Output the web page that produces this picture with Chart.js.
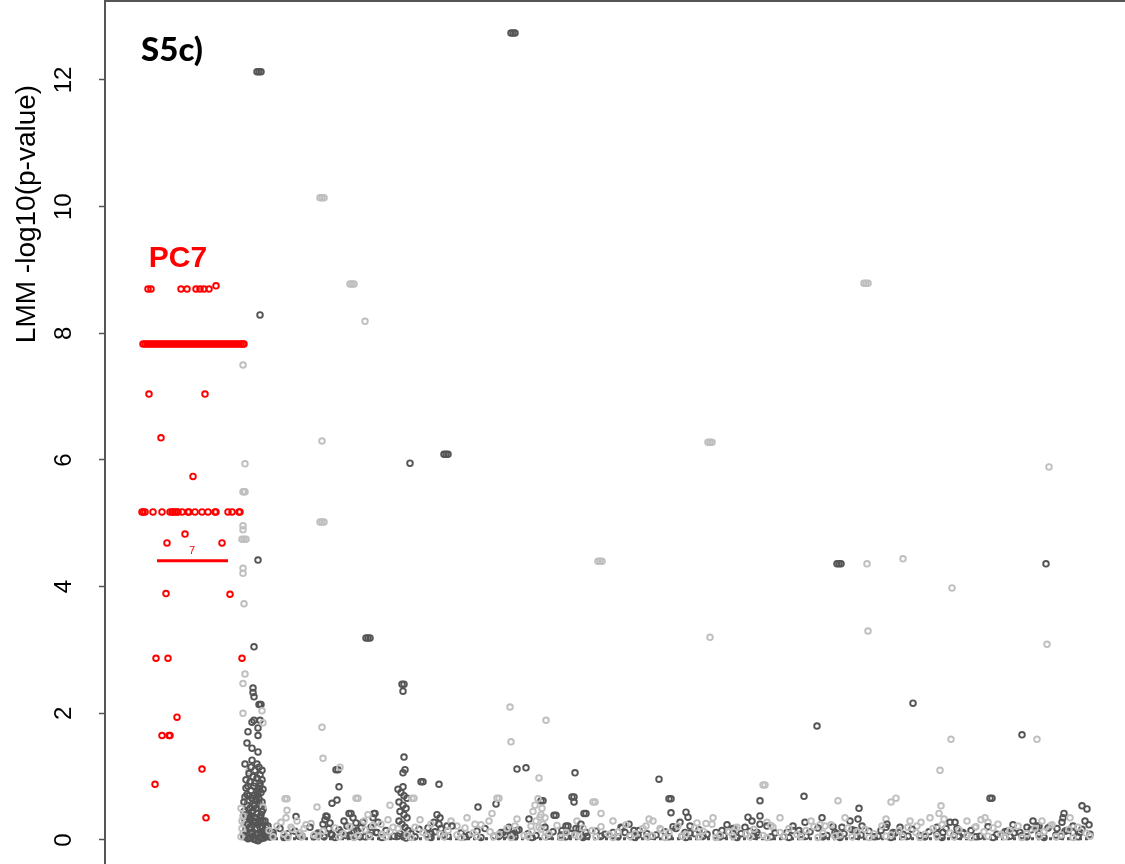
<!DOCTYPE html>
<html>
<head>
<meta charset="utf-8">
<script src="https://cdn.jsdelivr.net/npm/chart.js@4.4.1/dist/chart.umd.min.js"></script>
<style>
html,body{margin:0;padding:0;background:#fff;overflow:hidden;}
#wrap{width:1125px;height:864px;overflow:hidden;}
canvas{display:block;}
</style>
</head>
<body>
<div id="wrap"><canvas id="c" width="1125" height="864"></canvas></div>
<script>
// y-axis tick labels
const yTicks = [0, 2, 4, 6, 8, 10, 12];
const yTitle = 'LMM -log10(p-value)';
const panelLabel = 'S5c)';
const peakLabel = 'PC7';
const peakLineLabel = '7';

// PC7 (red) hits: [position, -log10 p]
const redPts = [
  [43,8.70],[46,8.70],[76,8.70],[82,8.70],[91,8.70],[95,8.70],[99,8.70],[104,8.70],[111,8.75],
  [38,7.83],[40,7.83],[42,7.83],[44,7.83],[46,7.83],[48,7.83],[50,7.83],[52,7.83],[54,7.83],[56,7.83],
  [58,7.83],[60,7.83],[62,7.83],[64,7.83],[66,7.83],[68,7.83],[70,7.83],[72,7.83],[74,7.83],[76,7.83],
  [78,7.83],[80,7.83],[82,7.83],[84,7.83],[86,7.83],[88,7.83],[90,7.83],[92,7.83],[94,7.83],[96,7.83],
  [98,7.83],[100,7.83],[102,7.83],[104,7.83],[106,7.83],[108,7.83],[110,7.83],[112,7.83],[114,7.83],
  [116,7.83],[118,7.83],[120,7.83],[122,7.83],[124,7.83],[126,7.83],[128,7.83],[130,7.83],[132,7.83],
  [134,7.83],[136,7.83],[138,7.83],[139,7.83],
  [44,7.04],[100,7.04],[56,6.35],[88,5.74],
  [37,5.18],[38,5.18],[40,5.18],[48,5.18],[57,5.18],[65,5.18],[67,5.18],[68,5.18],[70,5.18],[72,5.18],
  [73,5.18],[77,5.18],[83,5.18],[84,5.18],[90,5.18],[97,5.18],[103,5.18],[110,5.18],[111,5.18],
  [123,5.18],[127,5.18],[134,5.18],[135,5.18],
  [80,4.83],[62,4.69],[117,4.69],
  [61,3.89],[125,3.88],[51,2.87],[63,2.87],[137,2.87],[72,1.94],[57,1.65],[64,1.65],[65,1.65],
  [97,1.12],[50,0.88],[101,0.35]
];
// PC7 threshold segment
const redLine = [[52,4.41],[123,4.41]];

// other traits, dark grey
const darkPts = [
  [152,12.13],[154,12.13],[156,12.13],[406,12.74],[408,12.74],[410,12.74],
  [155,8.29],[305,5.95],[339,6.09],[341,6.09],[343,6.09],[153,4.42],
  [261,3.19],[263,3.19],[265,3.19],[149,3.05],[297,2.46],[299,2.46],[298,2.35],
  [732,4.36],[734,4.36],[736,4.36],[941,4.36],[808,2.16],[712,1.80],[917,1.66],
  [148,2.40],[148,2.33],[149,2.26],[154,2.14],[155,2.14],[156,2.14],[149,1.89],[155,1.89],[147,1.86],
  [153,1.77],[143,1.71],[153,1.65],[142,1.53],[147,1.45],[147,1.26],[153,1.39],[154,1.15],[155,1.03],
  [150,1.10],[152,0.98],[155,0.90],[149,0.85],[153,0.80],[156,0.75],[144,0.70],[147,0.66],[151,0.62],
  [154,0.58],[142,0.55],[145,0.50],[148,0.46],[152,0.42],[156,0.40],[143,0.36],[146,0.32],[150,0.28],
  [153,0.25],[157,0.22],[141,0.20],[144,0.16],[148,0.12],[151,0.09],[155,0.06],[145,0.03],[149,0.01],
  [153,-0.01],[142,0.05],[147,0.24],[150,0.55],[146,0.78],[152,0.70],[145,0.92],[157,0.60],[158,0.30],
  [160,0.15],[162,0.08],[165,0.05],[168,0.12],[140,0.30],[141,0.10],[143,0.62],[157,1.10],[151,0.35],
  [139,0.45],[140,0.68],[141,0.82],[144,0.40],[146,0.12],[149,0.70],[152,0.18],[155,0.35],[158,0.48],
  [143,0.02],[147,0.06],[151,0.00],[156,0.02],[159,0.03],[161,0.20],
  [231,1.11],[233,1.11],[234,0.84],[232,0.63],[227,0.58],[299,1.31],[300,1.11],[298,1.06],[298,0.84],
  [293,0.80],[296,0.75],[299,0.70],[302,0.66],[294,0.60],[298,0.55],[301,0.50],[295,0.45],[299,0.40],
  [302,0.35],[294,0.30],[297,0.25],[300,0.20],[303,0.15],[295,0.10],[298,0.06],[301,0.03],
  [316,0.92],[318,0.92],[334,0.88],[373,0.52],[269,0.42],[258,0.28],[222,0.37],[220,0.32],[225,0.27],
  [244,0.42],[246,0.42],[251,0.27],[270,0.42],[335,0.35],[334,0.25],[323,0.19],[191,0.37],
  [391,0.57],[412,1.12],[421,1.14],[436,0.62],[438,0.62],[449,0.39],[451,0.39],[467,0.68],[469,0.68],
  [469,0.60],[470,1.06],[479,0.42],[481,0.42],[554,0.96],[564,0.65],[566,0.65],[566,0.43],[581,0.44],
  [583,0.36],[643,0.36],[655,0.62],[655,0.38],[655,0.25],[424,0.33],[463,0.22],
  [699,0.69],[754,0.50],[717,0.35],[753,0.33],[885,0.66],[887,0.66],[977,0.54],[982,0.49],[959,0.42],
  [958,0.35],[984,0.24],[850,0.28],[932,0.22],[934,0.22],[728,0.21]
];
// dark grey, dense clumps of hits near the floor
const darkClumps = [
  [139,0.05],[141,0.15],[143,0.25],[145,0.35],[147,0.45],[149,0.55],[151,0.65],[153,0.75],[155,0.85],
  [157,0.95],[139,0.60],[141,0.40],[143,0.85],[145,0.20],[147,0.10],[149,0.30],[151,0.50],[153,0.10],
  [155,0.20],[157,0.45],[159,0.10],[141,0.95],[144,1.05],[148,1.00],[152,1.20],[146,1.15],[150,0.90],
  [154,0.65],[156,0.30],[158,0.80],[140,1.20],[142,0.72],[158,0.10],[160,0.30],[163,0.22],
  [215,0.10],[218,0.25],[221,0.38],[224,0.18],[227,0.08],[219,0.05],
  [236,0.12],[239,0.30],[242,0.22],[245,0.08],[248,0.35],[252,0.15],[255,0.05],
  [266,0.20],[268,0.35],[271,0.12],[273,0.28],
  [326,0.10],[329,0.28],[332,0.40],[336,0.18],[339,0.08],[342,0.22],
  [396,0.12],[400,0.08],[404,0.20],[408,0.10],[412,0.15],
  [457,0.15],[461,0.22],[466,0.10],[471,0.18],[476,0.25],[481,0.12],
  [516,0.20],[520,0.12],[524,0.25],[529,0.15],[533,0.08],
  [571,0.18],[575,0.28],[580,0.12],[585,0.22],[590,0.10],
  [617,0.15],[622,0.24],[628,0.10],[640,0.20],[647,0.30],[652,0.12],
  [682,0.12],[688,0.22],[694,0.15],[700,0.28],
  [732,0.10],[737,0.20],[745,0.30],[750,0.15],[757,0.22],
  [776,0.15],[782,0.25],[788,0.12],[795,0.20],
  [832,0.20],[838,0.12],[845,0.28],[852,0.18],[858,0.10],
  [902,0.14],[908,0.24],[915,0.12],[922,0.20],[928,0.30],
  [952,0.18],[957,0.28],[962,0.15],[968,0.22],[975,0.12],[980,0.30]
];
// dark grey, near-baseline hits
const darkBase = [
  [160,0.12],[168,0.08],[175,0.18],[183,0.10],[190,0.14],[197,0.06],[205,0.20],[213,0.11],[226,0.09],
  [234,0.16],[241,0.07],[249,0.13],[256,0.19],[264,0.08],[272,0.12],[281,0.15],[289,0.06],[306,0.10],
  [314,0.17],[322,0.09],[330,0.13],[339,0.07],[347,0.22],[356,0.11],[364,0.08],[372,0.14],[380,0.18],
  [389,0.06],[398,0.12],[406,0.09],[414,0.16],[423,0.10],[431,0.07],[440,0.20],[448,0.13],[456,0.08],
  [465,0.11],[474,0.17],[482,0.06],[491,0.14],[500,0.09],[508,0.12],[517,0.19],[525,0.07],[534,0.15],
  [542,0.10],[551,0.08],[560,0.13],[568,0.21],[577,0.06],[585,0.11],[594,0.16],[602,0.09],[611,0.12],
  [619,0.07],[628,0.18],[636,0.10],[645,0.14],[653,0.08],[662,0.22],[670,0.11],[679,0.06],[688,0.15],
  [696,0.09],[705,0.13],[713,0.19],[722,0.07],[730,0.12],[739,0.10],[747,0.16],[756,0.08],[764,0.14],
  [773,0.06],[781,0.20],[790,0.11],[798,0.09],[807,0.17],[815,0.07],[824,0.13],[832,0.10],[841,0.18],
  [849,0.08],[858,0.12],[866,0.15],[875,0.06],[883,0.21],[892,0.09],[900,0.13],[909,0.11],[917,0.07],
  [926,0.16],[934,0.10],[943,0.19],[951,0.08],[960,0.14],[968,0.12],[977,0.17],[985,0.09],
  [164,0.05],[179,0.04],[194,0.06],[209,0.05],[230,0.04],[245,0.06],[260,0.05],[277,0.04],[293,0.06],
  [310,0.05],[326,0.04],[343,0.06],[360,0.05],[376,0.04],[394,0.06],[410,0.05],[427,0.04],[444,0.06],
  [461,0.05],[478,0.04],[496,0.06],[513,0.05],[530,0.04],[547,0.06],[564,0.05],[581,0.04],[598,0.06],
  [615,0.05],[632,0.04],[649,0.06],[666,0.05],[684,0.04],[701,0.06],[718,0.05],[735,0.04],[752,0.06],
  [769,0.05],[786,0.04],[803,0.06],[820,0.05],[837,0.04],[854,0.06],[871,0.05],[888,0.04],[905,0.06],
  [922,0.05],[939,0.04],[956,0.06],[973,0.05]
];

// other traits, light grey
const lightPts = [
  [215,10.14],[217,10.14],[219,10.14],[245,8.78],[247,8.78],[249,8.78],[260,8.19],[138,7.50],
  [217,6.30],[140,5.94],[138,5.50],[139,5.50],[140,5.50],[215,5.02],[217,5.02],[219,5.02],
  [137,4.75],[139,4.75],[141,4.75],[138,4.96],[138,4.90],[138,4.29],[138,4.21],[139,3.73],
  [140,2.62],[138,2.47],[157,2.04],[138,2.00],[158,1.85],[144,1.09],[180,0.65],[182,0.65],[182,0.47],
  [603,6.28],[605,6.28],[607,6.28],[759,8.79],[761,8.79],[763,8.79],[944,5.89],[493,4.40],[495,4.40],
  [497,4.40],[762,4.36],[798,4.44],[847,3.98],[605,3.20],[763,3.30],[942,3.09],[846,1.59],[932,1.59],
  [835,1.10],[405,2.10],[406,1.55],[441,1.89],[217,1.78],[218,1.29],
  [235,1.15],[251,0.66],[253,0.66],[212,0.52],[307,0.66],[309,0.66],[315,0.32],[285,0.55],
  [434,0.98],[392,0.66],[394,0.66],[387,0.42],[488,0.60],[490,0.60],[496,0.42],[508,0.30],[544,0.33],
  [658,0.87],[660,0.87],[630,0.19],[592,0.27],[412,0.33],[435,0.36],[472,0.30],
  [431,0.30],[434,0.20],[438,0.25],[441,0.12],[436,0.40],[440,0.35],
  [733,0.62],[786,0.60],[791,0.66],[836,0.54],[834,0.42],[839,0.33],[876,0.32],[883,0.28],[781,0.33],
  [816,0.28],[715,0.24],[140,0.40],[139,0.25],[143,0.15],[158,0.52],[138,0.10],[137,0.30],[139,0.60]
];
// light grey, clumps near the floor
const lightClumps = [
  [136,0.05],[137,0.18],[138,0.38],[136,0.50],
  [176,0.28],[181,0.35],[186,0.20],[192,0.30],[199,0.18],[206,0.26],
  [259,0.30],[263,0.40],[276,0.25],[283,0.32],[288,0.20],
  [346,0.30],[352,0.22],[362,0.35],[370,0.25],[384,0.30],
  [426,0.22],[428,0.45],[430,0.55],[433,0.65],[437,0.50],
  [541,0.22],[548,0.30],[555,0.18],[601,0.26],[608,0.35],
  [662,0.28],[668,0.20],[675,0.35],[706,0.30],[720,0.22],[740,0.35],
  [805,0.30],[812,0.22],[825,0.35],[862,0.30],[870,0.20],[880,0.35],[893,0.25],
  [937,0.30],[945,0.22],[965,0.35]
];
// light grey, near-baseline hits
const lightBase = [
  [164,0.15],[172,0.22],[179,0.09],[187,0.17],[194,0.11],[201,0.24],[209,0.08],[218,0.14],[230,0.19],
  [238,0.10],[245,0.21],[253,0.07],[260,0.16],[268,0.23],[277,0.09],[285,0.13],[293,0.18],[302,0.08],
  [310,0.20],[318,0.12],[326,0.25],[335,0.10],[343,0.15],[352,0.08],[360,0.19],[368,0.11],[376,0.24],
  [385,0.13],[394,0.09],[402,0.18],[410,0.22],[419,0.07],[427,0.14],[436,0.17],[444,0.10],[452,0.23],
  [461,0.12],[470,0.08],[478,0.19],[487,0.15],[496,0.21],[504,0.09],[513,0.13],[521,0.24],[530,0.10],
  [538,0.18],[547,0.07],[556,0.16],[564,0.12],[573,0.22],[581,0.09],[590,0.19],[598,0.14],[607,0.25],
  [615,0.08],[624,0.13],[632,0.20],[641,0.10],[649,0.17],[658,0.07],[666,0.23],[675,0.12],[684,0.18],
  [692,0.09],[701,0.15],[709,0.21],[718,0.11],[726,0.24],[735,0.08],[743,0.19],[752,0.13],[760,0.17],
  [769,0.10],[777,0.22],[786,0.08],[794,0.15],[803,0.20],[811,0.12],[820,0.09],[828,0.18],[837,0.24],
  [845,0.11],[854,0.16],[862,0.07],[871,0.21],[879,0.13],[888,0.19],[896,0.09],[905,0.15],[913,0.22],
  [922,0.10],[930,0.18],[939,0.13],[947,0.24],[956,0.08],[964,0.17],[973,0.20],[981,0.11],
  [168,0.05],[183,0.04],[197,0.05],[213,0.06],[234,0.05],[249,0.04],[264,0.06],[281,0.05],[306,0.04],
  [322,0.06],[339,0.05],[356,0.04],[372,0.06],[389,0.05],[406,0.04],[423,0.06],[440,0.05],[456,0.04],
  [474,0.06],[491,0.05],[508,0.04],[525,0.06],[542,0.05],[560,0.04],[577,0.06],[594,0.05],[611,0.04],
  [628,0.06],[645,0.05],[662,0.04],[679,0.06],[696,0.05],[713,0.04],[730,0.06],[747,0.05],[764,0.04],
  [781,0.06],[798,0.05],[815,0.04],[832,0.06],[849,0.05],[866,0.04],[883,0.06],[900,0.05],[917,0.04],
  [934,0.06],[951,0.05],[968,0.04],[985,0.06]
];
// dense floor of non-significant hits
const floorLine = [[140,0.02],[985,0.02]];

const toXY = arr => arr.map(p => ({x: p[0], y: p[1]}));
const DARK = '#555555', LIGHT = '#bfbfbf', RED = '#ff0000';
const ptStyle = (c) => ({
  pointRadius: 2.8, pointBorderWidth: 1.9, pointBackgroundColor: 'rgba(0,0,0,0)',
  pointBorderColor: c, borderColor: c, showLine: false, pointHoverRadius: 2.8
});

const textPlugin = {
  id: 'texts',
  afterDatasetsDraw(chart) {
    const {ctx, chartArea, scales} = chart;
    const xs = scales.x, ys = scales.y;
    ctx.save();
    // y axis title
    ctx.translate(27, 214);
    ctx.rotate(-Math.PI / 2);
    ctx.fillStyle = '#000';
    ctx.font = '28px "Liberation Sans", Arial, sans-serif';
    ctx.textAlign = 'center';
    ctx.textBaseline = 'middle';
    ctx.fillText(yTitle, 0, 0);
    ctx.restore();

    ctx.save();
    ctx.fillStyle = '#000';
    ctx.font = '900 33px Lato, "Open Sans", sans-serif';
    ctx.textAlign = 'center';
    ctx.textBaseline = 'middle';
    ctx.fillText(panelLabel, chartArea.left + 67, chartArea.top + 49);

    ctx.fillStyle = RED;
    ctx.font = 'bold 30px "Liberation Sans", Arial, sans-serif';
    ctx.fillText(peakLabel, xs.getPixelForValue(73), ys.getPixelForValue(9.17));
    ctx.font = '11px "Liberation Sans", Arial, sans-serif';
    ctx.fillText(peakLineLabel, xs.getPixelForValue(87), ys.getPixelForValue(4.56));
    ctx.restore();
  }
};

new Chart(document.getElementById('c'), {
  type: 'scatter',
  data: {
    datasets: [
      Object.assign({label: 'lightBase', data: toXY(lightBase)}, ptStyle(LIGHT)),
      Object.assign({label: 'darkBase', data: toXY(darkBase)}, ptStyle(DARK)),
      Object.assign({label: 'lightClumps', data: toXY(lightClumps)}, ptStyle(LIGHT)),
      Object.assign({label: 'darkClumps', data: toXY(darkClumps)}, ptStyle(DARK)),
      {label: 'floor', type: 'line', data: toXY(floorLine), borderColor: DARK, borderWidth: 3,
       borderDash: [3, 3], pointRadius: 0, fill: false},
      Object.assign({label: 'light', data: toXY(lightPts)}, ptStyle(LIGHT)),
      Object.assign({label: 'dark', data: toXY(darkPts)}, ptStyle(DARK)),
      Object.assign({label: 'PC7', data: toXY(redPts)}, ptStyle(RED)),
      {label: 'PC7 line', type: 'line', data: toXY(redLine), borderColor: RED, borderWidth: 3,
       pointRadius: 0, fill: false}
    ]
  },
  options: {
    responsive: false,
    devicePixelRatio: 1,
    animation: false,
    layout: {autoPadding: false, padding: {top: 1, right: 0, bottom: 0, left: 0}},
    plugins: {legend: {display: false}, tooltip: {enabled: false}},
    scales: {
      x: {
        type: 'linear', position: 'top', min: 0, max: 1020,
        ticks: {display: false},
        grid: {display: false},
        border: {display: true, color: '#555', width: 2},
        afterFit(s) { s.height = 0; s.paddingLeft = 0; s.paddingRight = 0; s.paddingTop = 0; s.paddingBottom = 0; }
      },
      y: {
        type: 'linear', position: 'left', min: -0.379, max: 13.247,
        afterBuildTicks(s) { s.ticks = yTicks.map(v => ({value: v})); },
        afterFit(s) { s.width = 105; s.paddingTop = 0; s.paddingBottom = 0; s.paddingLeft = 0; s.paddingRight = 0; },
        ticks: {
          minRotation: 90, maxRotation: 90, crossAlign: 'center', padding: 21,
          color: '#000', font: {family: '"Liberation Sans", Arial, sans-serif', size: 24},
          callback: v => String(v)
        },
        grid: {display: true, drawOnChartArea: false, drawTicks: true, tickLength: 6,
               color: '#555', tickColor: '#555', tickWidth: 1.5},
        border: {display: true, color: '#555', width: 2}
      }
    }
  },
  plugins: [textPlugin]
});
</script>
</body>
</html>
